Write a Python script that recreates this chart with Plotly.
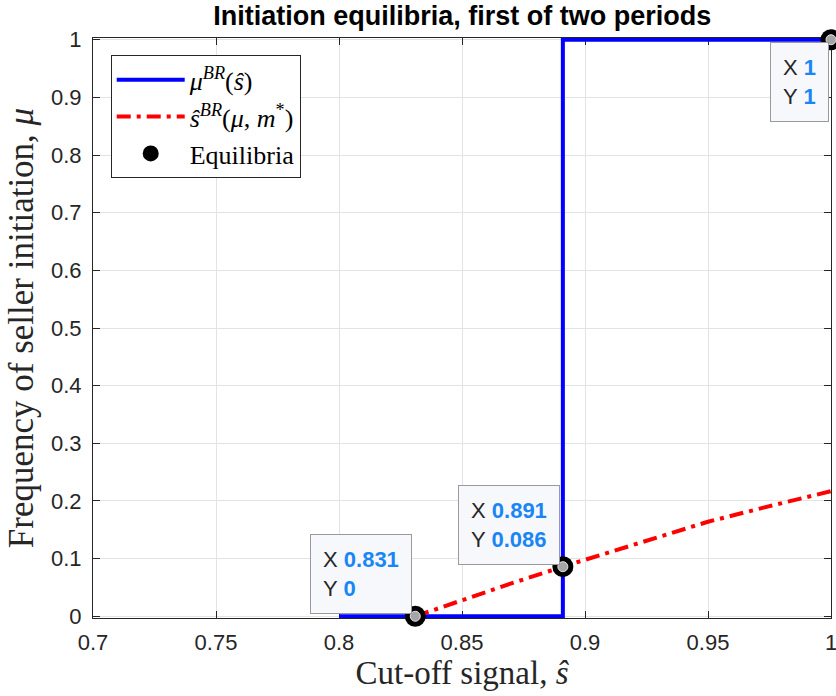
import plotly.graph_objects as go

# ---- data ----
blue_x = [0.8, 0.891, 0.891, 1.0]
blue_y = [0.0, 0.0, 1.0, 1.0]

red_x = [0.831, 0.85, 0.87, 0.891, 0.92, 0.95, 0.975, 1.0]
red_y = [0.0, 0.028, 0.057, 0.086, 0.124, 0.164, 0.191, 0.217]

eq_x = [0.831, 0.891, 1.0]
eq_y = [0.0, 0.086, 1.0]
eq_lab_x = ["0.831", "0.891", "1"]
eq_lab_y = ["0", "0.086", "1"]

x_ticks = [0.7, 0.75, 0.8, 0.85, 0.9, 0.95, 1.0]
x_ticktext = ["0.7", "0.75", "0.8", "0.85", "0.9", "0.95", "1"]
y_ticks = [0, 0.1, 0.2, 0.3, 0.4, 0.5, 0.6, 0.7, 0.8, 0.9, 1.0]
y_ticktext = ["0", "0.1", "0.2", "0.3", "0.4", "0.5", "0.6", "0.7", "0.8", "0.9", "1"]

SANS = "Liberation Sans, Arial, sans-serif"
SERIF = "Liberation Serif, DejaVu Serif, serif"
AX = "#262626"

fig = go.Figure()
fig.add_trace(go.Scatter(
    x=blue_x, y=blue_y, mode="lines",
    line=dict(color="#0000FF", width=4),
    name="<i>μ</i><sup><i>BR</i></sup>(<i>ŝ</i>)"))
fig.add_trace(go.Scatter(
    x=red_x, y=red_y, mode="lines",
    line=dict(color="#FF0000", width=4, dash="14px,6px,4px,6px"),
    name="<i>ŝ</i><sup><i>BR</i></sup>(<i>μ</i>, <i>m</i><sup>*</sup>)"))
fig.add_trace(go.Scatter(
    x=eq_x, y=eq_y, mode="markers", cliponaxis=False,
    marker=dict(color="black", size=21, line=dict(width=0)),
    name="Equilibria"))
fig.add_trace(go.Scatter(
    x=eq_x, y=eq_y, mode="markers", cliponaxis=False, showlegend=False,
    marker=dict(color="#A6A6A6", size=10, line=dict(color="#E6E6E6", width=1)),
    hoverinfo="skip"))

# data tips
tip_pos = [("right", "bottom", -3, 2), ("right", "bottom", -3, 2), ("right", "top", -2, -2)]
for i in range(len(eq_x)):
    xa, ya, xs, ys = tip_pos[i]
    txt = ("X <b><span style='color:#1A86F5'>%s</span></b><br>"
           "Y <b><span style='color:#1A86F5'>%s</span></b>"
           % (eq_lab_x[i], eq_lab_y[i]))
    fig.add_annotation(
        x=eq_x[i], y=eq_y[i], xref="x", yref="y", text=txt, showarrow=False,
        xanchor=xa, yanchor=ya, xshift=xs, yshift=ys, align="left",
        font=dict(family=SANS, size=22, color="#262626"),
        bgcolor="#F7F8FC", bordercolor="#9A9A9A", borderwidth=1, borderpad=12)

fig.update_layout(
    width=836, height=696,
    margin=dict(l=93, r=5, t=38, b=78),
    paper_bgcolor="white", plot_bgcolor="white",
    title=dict(text="<b>Initiation equilibria, first of two periods</b>",
               x=0.553, xanchor="center", y=0.978, yanchor="middle",
               font=dict(family=SANS, size=27, color="black")),
    legend=dict(x=0.024, y=0.97, xanchor="left", yanchor="top",
                bgcolor="white", bordercolor=AX, borderwidth=1,
                font=dict(family=SERIF, size=26, color="black"),
                tracegroupgap=0, itemwidth=68),
    showlegend=True,
)
fig.update_xaxes(
    range=[0.7, 1.0], tickvals=x_ticks, ticktext=x_ticktext, ticklabeloverflow="allow",
    automargin=False, ticklabelstandoff=5,
    showgrid=True, gridcolor="#E3E3E3", gridwidth=1,
    showline=True, linecolor=AX, linewidth=1, mirror="ticks",
    ticks="inside", ticklen=7, tickcolor=AX, zeroline=False, layer="below traces",
    tickfont=dict(family=SANS, size=22, color=AX),
    title=dict(text="Cut-off signal, <i>ŝ</i>", standoff=4,
               font=dict(family=SERIF, size=33, color=AX)))
fig.update_yaxes(
    range=[-0.003, 1.003], tickvals=y_ticks, ticktext=y_ticktext, ticklabeloverflow="allow",
    automargin=False, ticklabelstandoff=6,
    showgrid=True, gridcolor="#E3E3E3", gridwidth=1,
    showline=True, linecolor=AX, linewidth=1, mirror="ticks",
    ticks="inside", ticklen=7, tickcolor=AX, zeroline=False, layer="below traces",
    tickfont=dict(family=SANS, size=22, color=AX),
    title=dict(text="Frequency of seller initiation, <i>μ</i>", standoff=6,
               font=dict(family=SERIF, size=35, color=AX)))

fig.write_html("out.html")
